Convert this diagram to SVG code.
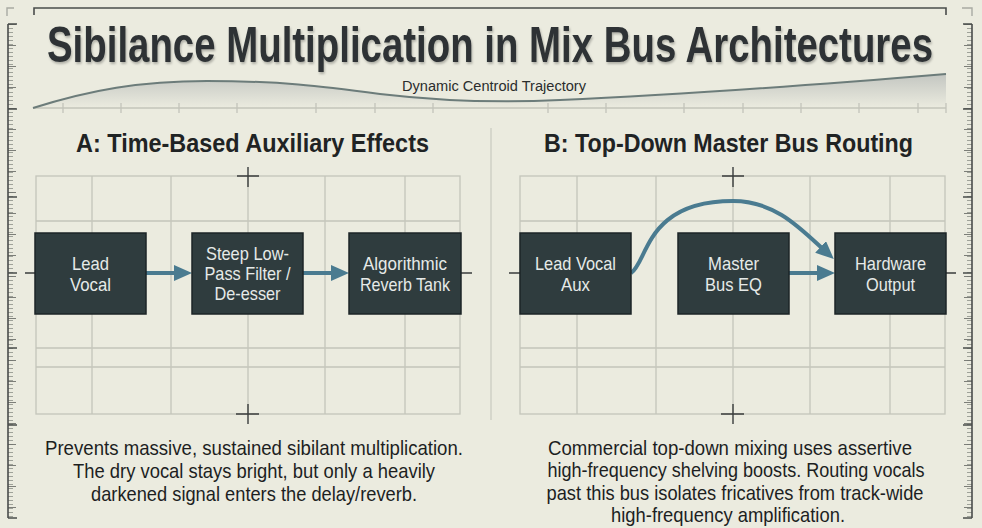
<svg xmlns="http://www.w3.org/2000/svg" width="982" height="528" viewBox="0 0 982 528">
<defs>
<style>
.bg{fill:#ebebdf}
.grid{stroke:#c4c5bb;stroke-width:1.3;fill:none}
.dark{stroke:#3a3d3c;stroke-width:1.4;fill:none}
.frame{stroke:#4a4d4b;stroke-width:1.6;fill:none}
.corner{stroke:#a9aba3;stroke-width:1.4;fill:none}
.box{fill:#2f3c3e;stroke:#1c2527;stroke-width:1.5}
.btxt{font-family:"Liberation Sans",Arial,sans-serif;font-size:19px;fill:#e6eae8;text-anchor:middle}
.title{font-family:"Liberation Sans",Arial,sans-serif;font-weight:bold;font-size:50px;fill:#2e3335}
.head{font-family:"Liberation Sans",Arial,sans-serif;font-weight:bold;font-size:26px;fill:#1f2324}
.body{font-family:"Liberation Sans",Arial,sans-serif;font-size:21px;fill:#1d1f1f}
.small{font-family:"Liberation Sans",Arial,sans-serif;font-size:14px;fill:#2a2d2d}
.arrow{stroke:#4a7b90;stroke-width:4;fill:none}
</style>
<marker id="ah" viewBox="0 0 18 16" markerWidth="18" markerHeight="16" markerUnits="userSpaceOnUse" refX="6" refY="8" orient="auto">
<path d="M0,0 L18,8 L0,16 z" fill="#4a7b90"/>
</marker>
<linearGradient id="cg" x1="0" y1="0" x2="0" y2="1">
<stop offset="0" stop-color="#c3c6c1"/>
<stop offset="1" stop-color="#ebebdf"/>
</linearGradient>
<pattern id="tkL" x="8" y="24" width="10" height="4" patternUnits="userSpaceOnUse"><path d="M0,0.5 H5" stroke="#8c8f88" stroke-width="0.8"/></pattern>
<pattern id="tkLm" x="8" y="24" width="10" height="21" patternUnits="userSpaceOnUse"><path d="M0,0.5 H8" stroke="#6f726c" stroke-width="0.9"/></pattern>
<pattern id="tkR" x="962" y="24" width="10" height="4" patternUnits="userSpaceOnUse"><path d="M5,0.5 H10" stroke="#8c8f88" stroke-width="0.8"/></pattern>
<pattern id="tkRm" x="962" y="24" width="10" height="21" patternUnits="userSpaceOnUse"><path d="M2,0.5 H10" stroke="#6f726c" stroke-width="0.9"/></pattern>
<filter id="sh" x="-5%" y="-20%" width="110%" height="140%"><feDropShadow dx="1" dy="2" stdDeviation="1.2" flood-color="#000" flood-opacity="0.25"/></filter>
</defs>
<rect class="bg" x="0" y="0" width="982" height="528"/>

<!-- frame & rulers -->
<g id="frame">
<path class="frame" d="M34,15 V8 H946 V15"/>
<path class="corner" d="M7,16 V8 H14 M962,8 H972 V16"/>
<rect x="8" y="24" width="6" height="494" fill="url(#tkL)"/>
<rect x="8" y="24" width="9" height="494" fill="url(#tkLm)"/>
<path class="frame" d="M8,24 V518 M8,24 H17 M8,109 H17 M8,197 H17 M8,273 H17 M8,348 H17 M8,425 H17 M8,518 H17"/>
<rect x="966" y="24" width="6" height="494" fill="url(#tkR)"/>
<rect x="963" y="24" width="9" height="494" fill="url(#tkRm)"/>
<path class="frame" d="M972,24 V518 M963,24 H972 M963,109 H972 M963,197 H972 M963,273 H972 M963,348 H972 M963,425 H972 M963,518 H972"/>
</g>

<text id="title" class="title" x="47" y="62" textLength="886" lengthAdjust="spacingAndGlyphs" filter="url(#sh)">Sibilance Multiplication in Mix Bus Architectures</text>

<!-- trajectory -->
<g id="trajectory">
<path d="M33,108 C90,90 140,81 207,81 C280,81 320,86 380,94 C440,101 500,103 560,100 C700,94 850,82 946,74 V108 Z" fill="url(#cg)"/>
<path d="M33,108 H946" stroke="#c3c4ba" stroke-width="1.3"/>
<path d="M63,103 V113 M121,103 V113 M179,103 V113 M237,103 V113 M316,103 V113 M375,103 V113 M433,103 V113 M548,103 V113 M606,103 V113 M684,103 V113 M743,103 V113 M801,103 V113 M859,103 V113 M918,103 V113 M946,103 V113" stroke="#c3c4ba" stroke-width="1.3"/>
<path d="M33,108 C90,90 140,81 207,81 C280,81 320,86 380,94 C440,101 500,103 560,100 C700,94 850,82 946,74" stroke="#6c7c7a" stroke-width="2" fill="none"/>
<text class="small" x="494" y="91" text-anchor="middle" textLength="184" lengthAdjust="spacingAndGlyphs">Dynamic Centroid Trajectory</text>
</g>

<path d="M491,128 V420" stroke="#cbccc2" stroke-width="1.3"/>

<!-- Panel A grid -->
<g id="gridA">
<rect class="grid" x="36" y="176" width="424" height="238"/>
<path class="grid" d="M92,176 V414 M171,176 V414 M248,176 V414 M325,176 V414 M405,176 V414 M36,221 H460 M36,348 H460 M36,367 H460"/>
<path class="dark" d="M248,167 V187 M237,176 H259 M248,404 V424 M236,414 H259 M25,273 H36 M460,273 H472"/>
</g>
<!-- Panel B grid -->
<g id="gridB">
<rect class="grid" x="520" y="176" width="425" height="238"/>
<path class="grid" d="M577,176 V414 M656,176 V414 M733,176 V414 M810,176 V414 M890,176 V414 M520,221 H945 M520,348 H945 M520,367 H945"/>
<path class="dark" d="M733,167 V187 M722,176 H744 M733,404 V424 M721,414 H744 M509,273 H520 M945,273 H956"/>
</g>

<text id="headA" class="head" x="76" y="152" textLength="353" lengthAdjust="spacingAndGlyphs">A: Time-Based Auxiliary Effects</text>
<text id="headB" class="head" x="544" y="152" textLength="369" lengthAdjust="spacingAndGlyphs">B: Top-Down Master Bus Routing</text>

<!-- connectors -->
<g id="connectors">
<path class="arrow" d="M146,273 H180" marker-end="url(#ah)"/>
<path class="arrow" d="M303,273 H337" marker-end="url(#ah)"/>
<path class="arrow" d="M789,273 H823" marker-end="url(#ah)"/>
<path class="arrow" d="M631,273 C648,262 645,201 733,201 C775,201 800,228 825,251" marker-end="url(#ah)"/>
</g>

<!-- nodes A -->
<g id="leadVocal">
<rect class="box" x="35" y="233" width="111" height="81"/>
<text class="btxt" x="90.5" y="270" textLength="37" lengthAdjust="spacingAndGlyphs">Lead</text>
<text class="btxt" x="90.5" y="291" textLength="41" lengthAdjust="spacingAndGlyphs">Vocal</text>
</g>
<g id="lowpass">
<rect class="box" x="192" y="233" width="111" height="81"/>
<text class="btxt" x="247.5" y="260" textLength="83" lengthAdjust="spacingAndGlyphs">Steep Low-</text>
<text class="btxt" x="247.5" y="280" textLength="86" lengthAdjust="spacingAndGlyphs">Pass Filter /</text>
<text class="btxt" x="247.5" y="300" textLength="66" lengthAdjust="spacingAndGlyphs">De-esser</text>
</g>
<g id="reverb">
<rect class="box" x="349" y="233" width="112" height="81"/>
<text class="btxt" x="405" y="270" textLength="84" lengthAdjust="spacingAndGlyphs">Algorithmic</text>
<text class="btxt" x="405" y="291" textLength="90" lengthAdjust="spacingAndGlyphs">Reverb Tank</text>
</g>
<!-- nodes B -->
<g id="leadVocalAux">
<rect class="box" x="520" y="233" width="111" height="81"/>
<text class="btxt" x="575.5" y="270" textLength="81" lengthAdjust="spacingAndGlyphs">Lead Vocal</text>
<text class="btxt" x="575.5" y="291" textLength="29" lengthAdjust="spacingAndGlyphs">Aux</text>
</g>
<g id="masterEQ">
<rect class="box" x="678" y="233" width="111" height="81"/>
<text class="btxt" x="733.5" y="270" textLength="51" lengthAdjust="spacingAndGlyphs">Master</text>
<text class="btxt" x="733.5" y="291" textLength="57" lengthAdjust="spacingAndGlyphs">Bus EQ</text>
</g>
<g id="hwOut">
<rect class="box" x="835" y="233" width="111" height="81"/>
<text class="btxt" x="890.5" y="270" textLength="71" lengthAdjust="spacingAndGlyphs">Hardware</text>
<text class="btxt" x="890.5" y="291" textLength="49" lengthAdjust="spacingAndGlyphs">Output</text>
</g>

<!-- captions -->
<g id="captionA" class="body" text-anchor="middle">
<text x="254" y="455" textLength="418" lengthAdjust="spacingAndGlyphs">Prevents massive, sustained sibilant multiplication.</text>
<text x="254" y="478" textLength="362" lengthAdjust="spacingAndGlyphs">The dry vocal stays bright, but only a heavily</text>
<text x="254" y="501" textLength="326" lengthAdjust="spacingAndGlyphs">darkened signal enters the delay/reverb.</text>
</g>
<g id="captionB" class="body" text-anchor="middle">
<text x="730" y="455" textLength="364" lengthAdjust="spacingAndGlyphs">Commercial top-down mixing uses assertive</text>
<text x="736" y="477" textLength="377" lengthAdjust="spacingAndGlyphs">high-frequency shelving boosts. Routing vocals</text>
<text x="735" y="500" textLength="377" lengthAdjust="spacingAndGlyphs">past this bus isolates fricatives from track-wide</text>
<text x="728" y="522" textLength="234" lengthAdjust="spacingAndGlyphs">high-frequency amplification.</text>
</g>
</svg>
